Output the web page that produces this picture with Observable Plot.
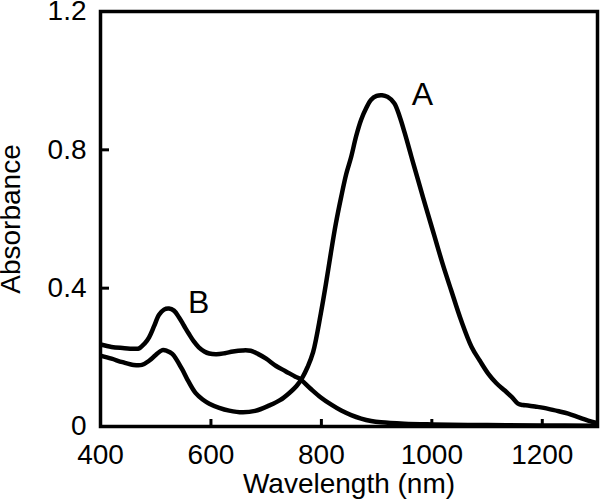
<!DOCTYPE html>
<html>
<head>
<meta charset="utf-8">
<script src="https://cdn.jsdelivr.net/npm/d3@7"></script>
<script src="https://cdn.jsdelivr.net/npm/@observablehq/plot@0.6"></script>
<style>
  html, body { margin: 0; padding: 0; background: #fff; }
  #chart svg { display: block; }
</style>
</head>
<body>
<div id="chart"></div>
<script>
// Curve A (wavelength nm, absorbance)
const aWavelength = [400,420,440,460,475,488,500,512,520,530,548,556,572,585,597,615,633,657,680,706,725,742,755,766,775,785,799,808,817,826,836,845,854,863,872,881,890,900,910,920,932,942,951,963,975,990,1005,1020,1035,1053,1072,1087,1102,1117,1132,1145,1156,1165,1174,1190,1211,1230,1247,1265,1283,1298];
const aAbsorbance = [0.205,0.196,0.186,0.178,0.178,0.190,0.207,0.221,0.219,0.210,0.165,0.140,0.097,0.078,0.066,0.054,0.046,0.041,0.045,0.061,0.076,0.097,0.117,0.143,0.172,0.215,0.327,0.410,0.500,0.585,0.665,0.730,0.780,0.840,0.887,0.920,0.945,0.956,0.958,0.953,0.935,0.895,0.848,0.780,0.713,0.630,0.549,0.468,0.394,0.307,0.230,0.190,0.153,0.125,0.104,0.085,0.066,0.062,0.061,0.057,0.051,0.044,0.037,0.027,0.017,0.010];

// Curve B
const bWavelength = [400,420,440,460,470,480,488,497,506,515,524,533,542,551,560,569,578,588,597,610,625,640,657,672,685,700,718,735,754,760,780,799,818,836,854,872,890,908,950,1000,1100,1200,1300];
const bAbsorbance = [0.237,0.230,0.227,0.225,0.226,0.240,0.258,0.290,0.323,0.338,0.341,0.335,0.316,0.292,0.268,0.246,0.229,0.217,0.211,0.209,0.212,0.217,0.220,0.219,0.210,0.196,0.175,0.160,0.143,0.139,0.110,0.084,0.063,0.046,0.033,0.023,0.016,0.012,0.008,0.006,0.004,0.003,0.002];

const xTicks = [400, 600, 800, 1000, 1200];
const yTicks = [0, 0.4, 0.8, 1.2];

const curveLabels = ["A", "B"];
const curveLabelX = [983, 578];
const curveLabelY = [0.96, 0.357];

const seriesA = aWavelength.map((w, i) => ({w, a: aAbsorbance[i], s: "A"}));
const seriesB = bWavelength.map((w, i) => ({w, a: bAbsorbance[i], s: "B"}));
const labels = curveLabels.map((t, i) => ({t, w: curveLabelX[i], a: curveLabelY[i]}));

const font = "'Liberation Sans', Arial, Helvetica, sans-serif";

const chart = Plot.plot({
  width: 600,
  height: 501,
  marginLeft: 100,
  marginRight: 3,
  marginTop: 11,
  marginBottom: 75,
  style: {fontFamily: font, fontSize: "28px", background: "#fff", color: "#000"},
  x: {domain: [400, 1300]},
  y: {domain: [0, 1.2]},
  marks: [
    Plot.line(seriesA, {x: "w", y: "a", stroke: "#000", strokeWidth: 4.5, curve: "catmull-rom", clip: true}),
    Plot.line(seriesB, {x: "w", y: "a", stroke: "#000", strokeWidth: 4.5, curve: "catmull-rom", clip: true}),
    Plot.text(labels, {x: "w", y: "a", text: "t", fontSize: 32, fill: "#000", lineAnchor: "middle", textAnchor: "middle"}),
    Plot.axisX(xTicks, {anchor: "bottom", tickSize: 0, tickPadding: 18, fontSize: 28, tickFormat: d => String(d),
      label: "Wavelength (nm)", labelAnchor: "center", labelArrow: "none", labelOffset: 66}),
    Plot.axisX(xTicks, {anchor: "top", frameAnchor: "bottom", tickSize: 8, strokeWidth: 3, tickFormat: () => "", label: null}),
    Plot.axisY(yTicks, {anchor: "left", tickSize: 0, tickPadding: 14, fontSize: 28, tickFormat: d => String(d),
      label: "Absorbance", labelAnchor: "center", labelArrow: "none", labelOffset: 100}),
    Plot.axisY(yTicks, {anchor: "right", frameAnchor: "left", tickSize: 8, strokeWidth: 3, tickFormat: () => "", label: null}),
    Plot.frame({stroke: "#000", strokeWidth: 3.5})
  ]
});
document.getElementById("chart").appendChild(chart);
</script>
</body>
</html>
